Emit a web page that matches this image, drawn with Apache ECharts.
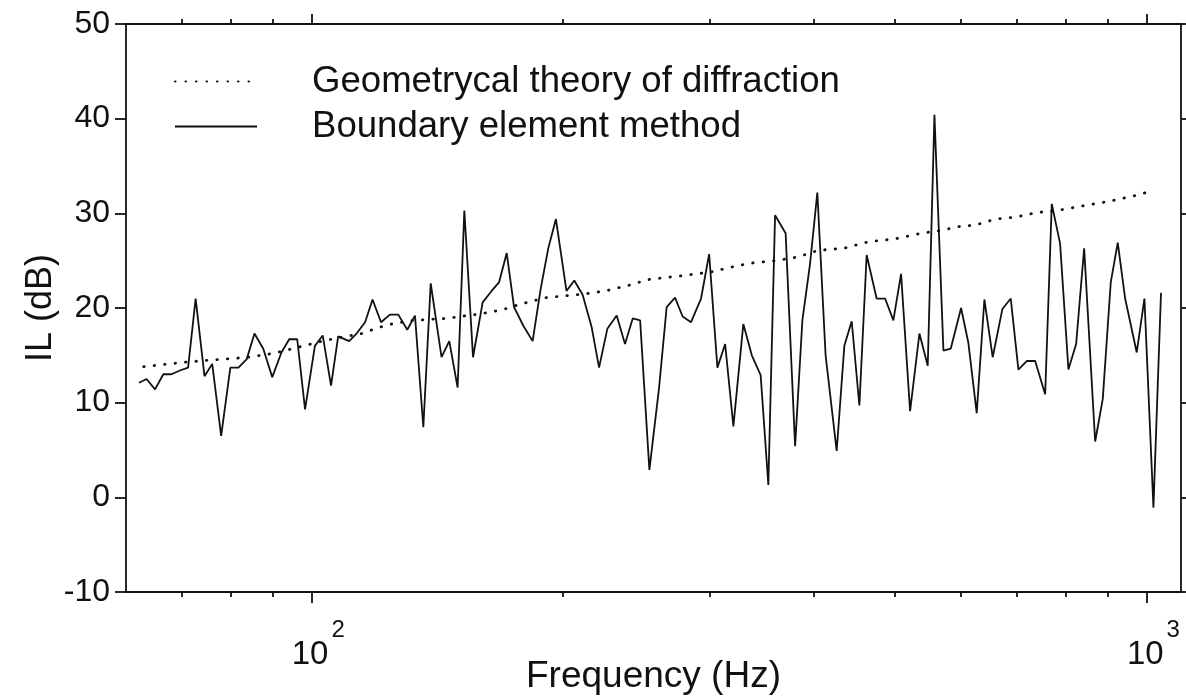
<!DOCTYPE html>
<html>
<head>
<meta charset="utf-8">
<script src="https://cdn.jsdelivr.net/npm/echarts@6/dist/echarts.min.js"></script>
<style>
html,body{margin:0;padding:0;background:#fff;}
#chart{width:1186px;height:697px;}
</style>
</head>
<body>
<div id="chart"></div>
<script>
// ---- data ----
const gtdFreq = [63,71,84,90,95,102,107,115,120,126,133,145,160,169,178,191,213,225,240,253,277,301,325,340,360,383,405,434,465,500,538,568,604,621,660,697,741,783,841,906,973,1017];
const gtdIL   = [13.8,14.3,14.8,15.2,15.7,16.4,16.8,17.3,17.9,18.4,18.7,18.9,19.4,19.8,20.4,21.1,21.5,21.8,22.4,23.0,23.4,23.8,24.5,24.8,25.0,25.4,26.1,26.3,27.0,27.3,27.9,28.2,28.7,28.7,29.4,29.6,30.1,30.3,30.8,31.3,31.9,32.4];

const bemFreq = [62.2,63.5,65.0,66.5,68.0,69.6,71.2,72.7,74.5,76.1,
  78.0,80.0,81.8,83.7,85.5,87.6,89.8,92.1,94.1,96.2,
  98.3,101.0,103.2,105.6,107.7,111.0,113.3,116.0,118.4,121.2,
  124.2,127.1,130.3,133.1,136.2,139.0,143.2,146.3,149.7,152.5,
  156.2,160.4,164.4,167.8,171.4,174.9,179.5,184.1,188.2,192.2,
  196.3,202.1,206.5,211.3,216.6,221.1,226.2,232.1,237.5,242.6,
  247.6,254.0,260.9,266.4,272.6,278.4,284.9,292.9,299.5,306.4,
  313.0,320.2,329.1,336.9,345.2,352.6,359.2,369.8,379.6,387.3,
  395.6,403.6,412.9,425.7,434.8,443.7,453.2,462.4,475.3,486.5,
  497.7,508.4,521.2,534.8,547.2,557.4,571.4,583.0,599.9,612.1,
  626.3,639.7,654.5,672.3,687.9,702.6,718.9,735.8,756.4,770.3,
  788.2,806.5,823.8,842.2,868.2,886.6,906.3,924.0,943.0,973.6,
  994.5,1019.5,1041];
const bemIL = [12.1,12.5,11.4,13.0,13.0,13.4,13.7,21.0,12.8,14.1,
  6.5,13.7,13.7,14.6,17.3,15.7,12.7,15.3,16.7,16.7,
  9.3,16.0,17.1,11.8,17.0,16.5,17.3,18.5,20.9,18.5,
  19.3,19.3,17.7,19.2,7.4,22.6,14.8,16.5,11.6,30.3,
  14.8,20.6,21.8,22.7,25.8,20.1,18.1,16.5,22.0,26.3,
  29.4,21.8,22.9,21.4,18.0,13.7,17.8,19.2,16.2,18.9,
  18.7,2.9,11.6,20.1,21.1,19.1,18.5,21.0,25.7,13.7,
  16.2,7.5,18.3,15.0,12.9,1.3,29.8,27.9,5.4,18.7,
  24.7,32.2,15.0,4.9,16.0,18.6,9.7,25.6,21.0,21.0,
  18.7,23.6,9.1,17.3,13.9,40.4,15.5,15.7,20.0,16.3,
  8.9,20.9,14.8,19.9,21.0,13.5,14.4,14.4,10.9,31.0,
  26.8,13.5,16.2,26.3,5.9,10.4,22.7,26.9,21.0,15.3,
  21.0,-1.1,21.6];

const xMajorTicks = [100, 1000];
const xMinorTicks = [70, 80, 90, 200, 300, 400, 500, 600, 700, 800, 900];
const seriesNames = ['Geometrycal theory of diffraction', 'Boundary element method'];

// ---- chart ----
const FONT = '"Liberation Sans", Arial, Helvetica, sans-serif';
const INK = '#111';
const chart = echarts.init(document.getElementById('chart'), null, {renderer: 'canvas'});

function xAxisDef(pos, ticks, len, showLabel) {
  return {
    type: 'log', logBase: 10, min: 60, max: 1100, position: pos,
    axisLine: {show: true, onZero: false, lineStyle: {color: INK, width: 1.8}},
    axisTick: {show: true, inside: false, length: len, customValues: ticks, lineStyle: {color: INK, width: 1.8}},
    axisLabel: showLabel ? {
      show: true, customValues: ticks, margin: 26, padding: [0, 0, 0, 14],
      formatter: v => '{a|10}{b|' + Math.round(Math.log10(v)) + '}',
      rich: {
        a: {fontFamily: FONT, fontSize: 33, color: INK, padding: [20, 0, 0, 0], verticalAlign: 'bottom'},
        b: {fontFamily: FONT, fontSize: 24, color: INK, verticalAlign: 'top', padding: [0, 0, 0, 3]}
      }
    } : {show: false},
    splitLine: {show: false}, minorTick: {show: false}, minorSplitLine: {show: false}
  };
}

const xAxes = [
  Object.assign(xAxisDef('bottom', xMajorTicks, 11, true), {
    name: 'Frequency (Hz)', nameLocation: 'middle', nameGap: 66, nameMoveOverlap: false,
    nameTextStyle: {fontFamily: FONT, fontSize: 37, color: INK}
  }),
  xAxisDef('bottom', xMinorTicks, 5, false),
  xAxisDef('top', xMajorTicks, 10, false),
  xAxisDef('top', xMinorTicks, 5, false)
];

const yAxes = [
  {
    type: 'value', min: -10, max: 50, interval: 10, position: 'left',
    name: 'IL (dB)', nameLocation: 'middle', nameGap: 67, nameRotate: 90, nameMoveOverlap: false,
    nameTextStyle: {fontFamily: FONT, fontSize: 36, color: INK},
    axisLine: {show: true, onZero: false, lineStyle: {color: INK, width: 1.8}},
    axisTick: {show: true, length: 11, lineStyle: {color: INK, width: 1.8}},
    axisLabel: {show: true, margin: 16, fontFamily: FONT, fontSize: 32, color: INK},
    splitLine: {show: false}
  },
  {
    type: 'value', min: -10, max: 50, interval: 10, position: 'right',
    axisLine: {show: true, onZero: false, lineStyle: {color: INK, width: 1.8}},
    axisTick: {show: true, length: 5, lineStyle: {color: INK, width: 1.8}},
    axisLabel: {show: false}, splitLine: {show: false}
  }
];

chart.setOption({
  animation: false,
  backgroundColor: '#fff',
  grid: {left: 126, right: 5, top: 24, bottom: 105, containLabel: false, outerBoundsMode: 'none'},
  legend: {
    show: true, orient: 'vertical', left: 169, top: 58, itemWidth: 82, itemHeight: 8, itemGap: 8,
    selectedMode: false,
    data: seriesNames,
    itemStyle: {color: 'rgba(0,0,0,0)', borderWidth: 0, opacity: 0},
    textStyle: {fontFamily: FONT, fontSize: 36.6, color: INK, lineHeight: 36, padding: [0, 0, 0, 50]}
  },
  xAxis: xAxes,
  yAxis: yAxes,
  series: [
    {
      name: seriesNames[0], type: 'line', xAxisIndex: 0, yAxisIndex: 0,
      data: gtdFreq.map((f, i) => [f, gtdIL[i]]),
      symbol: 'none', smooth: false,
      lineStyle: {color: INK, width: 2.8, type: [0.5, 10], cap: 'round'},
      itemStyle: {color: INK}
    },
    {
      name: seriesNames[1], type: 'line', xAxisIndex: 0, yAxisIndex: 0,
      data: bemFreq.map((f, i) => [f, bemIL[i]]),
      symbol: 'none', smooth: false,
      lineStyle: {color: INK, width: 1.8, type: 'solid'},
      itemStyle: {color: INK}
    }
  ]
});
</script>
</body>
</html>
